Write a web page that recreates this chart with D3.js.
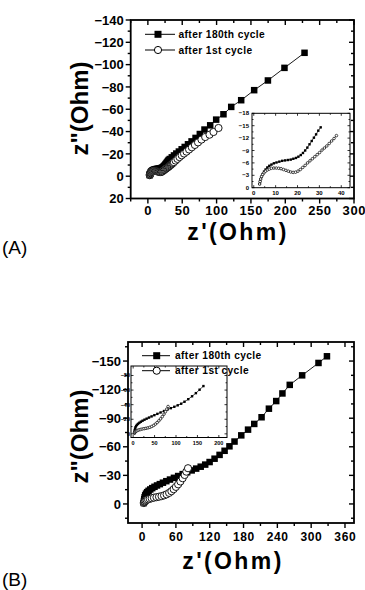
<!DOCTYPE html>
<html><head><meta charset="utf-8">
<script src="https://cdn.jsdelivr.net/npm/d3@7"></script>
<style>
html,body{margin:0;padding:0;background:#fff;}
svg{display:block;}
text{font-family:"Liberation Sans",Arial,sans-serif;}
</style></head>
<body>
<script>
// ---------- DATA ----------
const seriesNames = ["after 180th cycle", "after 1st cycle"];
// Panel A (Z' , Z'')
const a180X = [2.7,2.9,3.2,3.6,4.1,4.7,5.4,6.2,7.1,8.1,9.2,10.4,11.7,13.0,14.3,15.6,16.9,18.1,19.3,20.4,21.5,22.5,23.5,24.5,25.5,26.5,27.5,28.5,29.5,30.6,32.0,34.8,38.0,41.4,45.1,49.2,53.6,58.4,63.6,69.4,75.6,82.4,90.7,99.4,110,121.3,135.8,154.7,174.7,198.8,228];
const a180Y = [-0.9,-1.5,-2.1,-2.7,-3.3,-3.9,-4.4,-4.9,-5.3,-5.6,-5.9,-6.1,-6.3,-6.5,-6.6,-6.7,-6.8,-7.0,-7.2,-7.5,-7.9,-8.4,-9.0,-9.7,-10.5,-11.3,-12.1,-12.9,-13.8,-14.6,-15.4,-16.9,-18.6,-20.3,-22.1,-24.1,-26.2,-28.6,-31.2,-34.3,-37.8,-41.8,-45.6,-50.7,-55.5,-62.1,-68.1,-77.1,-85.8,-97.1,-110.6];
const a1X = [2.7,2.9,3.2,3.6,4.1,4.7,5.4,6.2,7.1,8.1,9.2,10.3,11.4,12.5,13.6,14.7,15.8,16.9,18.0,19.1,20.2,21.3,22.4,23.5,24.6,25.7,26.8,27.9,29.0,30.1,31.2,32.3,33.4,34.5,35.6,36.7,37.8,40.3,43.0,46.0,49.2,52.6,56.2,60.0,64.0,68.4,73.0,78.0,83.4,89.7,95.5,102.8];
const a1Y = [-0.9,-1.5,-2.1,-2.7,-3.2,-3.6,-4.0,-4.3,-4.5,-4.7,-4.75,-4.75,-4.7,-4.6,-4.4,-4.2,-4.0,-3.8,-3.7,-3.75,-4.0,-4.4,-4.9,-5.4,-6.0,-6.5,-7.0,-7.5,-8.0,-8.5,-9.1,-9.6,-10.1,-10.7,-11.3,-11.9,-12.6,-14.0,-15.5,-17.1,-18.7,-20.3,-22.0,-23.9,-25.9,-28.0,-30.3,-32.8,-35.1,-37.2,-39.6,-43.2];
// last point of each series shown in the inset of panel A
const aInsetLast = [30.6, 37.8];

// Panel B
const b180X = [3,3.3,3.8,4.5,5.5,7,9,11.5,14.5,18,22,26.5,31.5,37,43,49.5,56.5,64,72,80,88,96,104,112,119.8,128.6,137.5,146.4,155,164,176,188,199,212,225,238,249,262,284,313,328];
const b180Y = [-1,-3,-5,-7,-9,-10.8,-12.4,-13.8,-15.2,-16.6,-18,-19.4,-20.8,-22.3,-23.9,-25.6,-27.4,-29.3,-31.3,-33.3,-35.2,-37.1,-39.1,-41.3,-44,-47.5,-51.5,-55.8,-60.5,-65.5,-72,-78,-84,-91,-100,-108,-116,-125,-135,-148,-155];
const b1X = [3,3.5,4.5,6,8,10.5,13.5,17,21,25.5,30,34.5,39,43.5,48,52,56,60,64,68,72,75.5,78.5,81.5];
const b1Y = [-1,-1.8,-2.6,-3.4,-4.1,-4.8,-5.4,-6.0,-6.6,-7.1,-7.6,-8.2,-9.0,-10.1,-11.6,-13.4,-15.5,-17.9,-20.6,-23.6,-27.0,-30.4,-33.9,-37.5];
const bInsetLast = [170, 81.5];

// tick values
const aXTicks = [0,50,100,150,200,250,300];
const aYTicks = [20,0,-20,-40,-60,-80,-100,-120,-140];
const aInXTicks = [0,10,20,30,40];
const aInYTicks = [0,-3,-6,-9,-12,-15,-18];
const bXTicks = [0,60,120,180,240,300,360];
const bYTicks = [0,-30,-60,-90,-120,-150];
const bInXTicks = [0,50,100,150,200];
const bInYTicks = [0,-20,-40,-60,-80];

// ---------- DRAW ----------
const W = 365, H = 590;
const svg = d3.select("body").append("svg").attr("width", W).attr("height", H);

function zip(xs, ys){ return xs.map((x,i)=>({x:x, y:ys[i]})); }

function frame(g, x, y, o){
  const [x0,x1] = x.range(), [y0,y1] = y.range(); // y0 bottom, y1 top
  const tg = g.append("g").attr("stroke","#000").attr("stroke-width", o.tw);
  o.xTicks.forEach(v=>{
    tg.append("line").attr("x1",x(v)).attr("x2",x(v)).attr("y1",y0).attr("y2",y0+o.maj*o.dir);
    tg.append("line").attr("x1",x(v)).attr("x2",x(v)).attr("y1",y1).attr("y2",y1+o.maj);
  });
  o.xMinor.forEach(v=>{
    tg.append("line").attr("x1",x(v)).attr("x2",x(v)).attr("y1",y0).attr("y2",y0+o.min*o.dir);
    tg.append("line").attr("x1",x(v)).attr("x2",x(v)).attr("y1",y1).attr("y2",y1+o.min);
  });
  o.yTicks.forEach(v=>{
    tg.append("line").attr("y1",y(v)).attr("y2",y(v)).attr("x1",x0).attr("x2",x0-o.maj*o.dir);
    tg.append("line").attr("y1",y(v)).attr("y2",y(v)).attr("x1",x1).attr("x2",x1-o.maj);
  });
  o.yMinor.forEach(v=>{
    tg.append("line").attr("y1",y(v)).attr("y2",y(v)).attr("x1",x0).attr("x2",x0-o.min*o.dir);
    tg.append("line").attr("y1",y(v)).attr("y2",y(v)).attr("x1",x1).attr("x2",x1-o.min);
  });
  g.append("rect").attr("x",x0).attr("y",y1).attr("width",x1-x0).attr("height",y0-y1)
    .attr("fill","none").attr("stroke","#000").attr("stroke-width",o.sw);
  const lg = g.append("g").attr("font-weight","bold").attr("font-size",o.fs).attr("fill","#000");
  o.xTicks.forEach(v=>{
    lg.append("text").attr("x",x(v)+(o.ls||0)/2).attr("y",y0+o.xLabOff).attr("text-anchor","middle")
      .attr("letter-spacing",o.ls||0).text(d3.format("d")(v));
  });
  o.yTicks.forEach(v=>{
    lg.append("text").attr("x",x0-o.yLabOff).attr("y",y(v)).attr("dy","0.36em").attr("text-anchor","end")
      .attr("font-size",o.yfs||o.fs).attr("letter-spacing",o.yls||0).text(d3.format("d")(v));
  });
}

function minors(ticks, extra){
  const out=[];
  for(let i=0;i<ticks.length-1;i++) out.push((ticks[i]+ticks[i+1])/2);
  return out.concat(extra||[]);
}

function plotSeries(g, x, y, d180, d1, ms, r, lw){
  const line = d3.line().x(d=>x(d.x)).y(d=>y(d.y));
  g.append("path").attr("d",line(d180)).attr("fill","none").attr("stroke","#000").attr("stroke-width",lw);
  g.selectAll(null).data(d180).enter().append("rect")
    .attr("x",d=>x(d.x)-ms/2).attr("y",d=>y(d.y)-ms/2).attr("width",ms).attr("height",ms).attr("fill","#000");
  g.append("path").attr("d",line(d1)).attr("fill","none").attr("stroke","#000").attr("stroke-width",lw);
  g.selectAll(null).data(d1).enter().append("circle")
    .attr("cx",d=>x(d.x)).attr("cy",d=>y(d.y)).attr("r",r).attr("fill","#fff").attr("stroke","#000").attr("stroke-width",lw);
}

function legend(g, lx0, lx1, mx, tx, ys, fs){
  ys.forEach((yy,i)=>{
    g.append("line").attr("x1",lx0).attr("x2",lx1).attr("y1",yy).attr("y2",yy).attr("stroke","#000").attr("stroke-width",1);
    if(i===0) g.append("rect").attr("x",mx-3.5).attr("y",yy-3.5).attr("width",7).attr("height",7).attr("fill","#000");
    else g.append("circle").attr("cx",mx).attr("cy",yy).attr("r",3.6).attr("fill","#fff").attr("stroke","#000");
    g.append("text").attr("x",tx).attr("y",yy).attr("dy","0.35em").attr("font-weight","bold")
      .attr("font-size",fs).attr("letter-spacing",0.4).text(seriesNames[i]);
  });
}

function titles(g, xt, yt){
  g.append("text").attr("x",xt[0]).attr("y",xt[1]).attr("text-anchor","middle").attr("font-weight","bold")
    .attr("font-size",23).attr("letter-spacing",2.4).text("z'(Ohm)");
  g.append("text").attr("transform",`translate(${yt[0]},${yt[1]}) rotate(-90)`).attr("text-anchor","middle")
    .attr("font-weight","bold").attr("font-size",24).text('z"(Ohm)');
}

// ===== Panel A =====
{
  const g = svg.append("g");
  const x = d3.scaleLinear().domain([-25,300]).range([130.7,354]);
  const y = d3.scaleLinear().domain([20,-140]).range([198.5,20]);
  const d180 = zip(a180X,a180Y), d1 = zip(a1X,a1Y);
  plotSeries(g, x, y, d180, d1, 6.5, 3.6, 0.9);
  frame(g, x, y, {sw:1.8, tw:1.4, maj:5, min:3, dir:1, xTicks:aXTicks, yTicks:aYTicks,
    xMinor:minors(aXTicks,[-25]), yMinor:minors(aYTicks), fs:13, ls:0.6, xLabOff:16.5, yLabOff:7});
  legend(g, 145, 175, 158, 178.5, [34.3, 50], 10.2);
  titles(g, [238, 239.5], [88, 108.5]);
  const ig = g.append("g");
  const ix = d3.scaleLinear().domain([-0.8,44]).range([252,350]);
  const iy = d3.scaleLinear().domain([0,-18]).range([187.7,113.3]);
  ig.append("rect").attr("x",252).attr("y",113.3).attr("width",98).attr("height",74.4).attr("fill","#fff");
  plotSeries(ig, ix, iy, d180.filter(d=>d.x<=aInsetLast[0]), d1.filter(d=>d.x<=aInsetLast[1]), 2.4, 1.3, 0.7);
  frame(ig, ix, iy, {sw:1, tw:0.8, maj:2.5, min:1.5, dir:-1, xTicks:aInXTicks, yTicks:aInYTicks,
    xMinor:minors(aInXTicks), yMinor:minors(aInYTicks), fs:6, xLabOff:7, yLabOff:3});
  g.append("text").attr("x",2).attr("y",254).attr("font-family","'Open Sans',sans-serif").attr("font-size",19).text("(A)");
}

// ===== Panel B =====
{
  const g = svg.append("g");
  const x = d3.scaleLinear().domain([-25,376]).range([128,354]);
  const y = d3.scaleLinear().domain([20,-170]).range([523,342]);
  const d180 = zip(b180X,b180Y), d1 = zip(b1X,b1Y);
  plotSeries(g, x, y, d180, d1, 6.5, 3.6, 0.9);
  frame(g, x, y, {sw:1.8, tw:1.4, maj:5, min:3, dir:1, xTicks:bXTicks, yTicks:bYTicks,
    xMinor:minors(bXTicks), yMinor:minors(bYTicks,[15,-165]), fs:12, ls:0.6, yfs:13, xLabOff:18, yLabOff:7});
  const ig = g.append("g");
  const ix = d3.scaleLinear().domain([-5,219]).range([131,227]);
  const iy = d3.scaleLinear().domain([5,-93]).range([437.5,366]);
  ig.append("rect").attr("x",131).attr("y",366).attr("width",96).attr("height",71.5).attr("fill","#fff");
  plotSeries(ig, ix, iy, d180.filter(d=>d.x<=bInsetLast[0]), d1.filter(d=>d.x<=bInsetLast[1]), 2.4, 1.3, 0.7);
  frame(ig, ix, iy, {sw:1, tw:0.8, maj:2.5, min:1.5, dir:-1, xTicks:bInXTicks, yTicks:bInYTicks,
    xMinor:minors(bInXTicks), yMinor:minors(bInYTicks), fs:5.5, xLabOff:7, yLabOff:1});
  legend(g, 142, 170, 156.7, 175, [355.7, 370.7], 10.2);
  titles(g, [233, 569], [88, 436.5]);
  g.append("text").attr("x",2).attr("y",586).attr("font-family","'Open Sans',sans-serif").attr("font-size",19).text("(B)");
}
</script>
</body></html>
